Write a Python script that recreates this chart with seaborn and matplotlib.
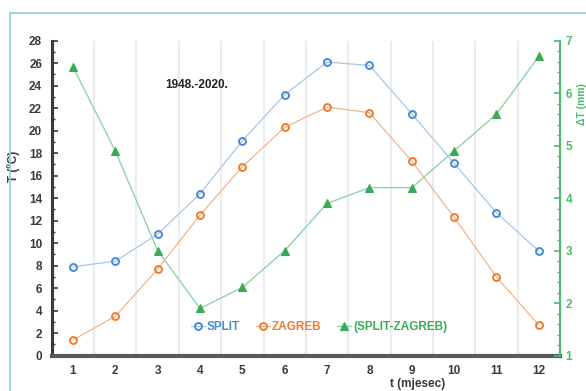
import matplotlib
matplotlib.use("Agg")
import matplotlib.pyplot as plt
from matplotlib.patches import Rectangle
from matplotlib.ticker import MultipleLocator, FixedLocator
import seaborn as sns
import pandas as pd

# Monthly mean air temperature 1948-2020 (°C) and the Split-Zagreb difference
months = [1, 2, 3, 4, 5, 6, 7, 8, 9, 10, 11, 12]
split_t = [7.9, 8.4, 10.8, 14.4, 19.1, 23.2, 26.1, 25.8, 21.5, 17.1, 12.7, 9.3]
zagreb_t = [1.4, 3.5, 7.7, 12.5, 16.8, 20.3, 22.1, 21.6, 17.3, 12.3, 7.0, 2.7]
diff_t = [6.5, 4.9, 3.0, 1.9, 2.3, 3.0, 3.9, 4.2, 4.2, 4.9, 5.6, 6.7]
series_names = ["SPLIT", "ZAGREB", "(SPLIT-ZAGREB)"]
period_label = "1948.-2020."

df = pd.DataFrame({"month": months, "split": split_t,
                   "zagreb": zagreb_t, "diff": diff_t})

sns.set_style("white")
plt.rcParams["font.family"] = ["Liberation Sans", "DejaVu Sans"]
plt.rcParams["font.weight"] = "bold"

BLUE, BLUE_L = "#4a8ad3", "#a8c7e8"
ORANGE, ORANGE_L = "#ed7d31", "#f3b48a"
GREEN, GREEN_L = "#3aaa56", "#8fd3a6"
AXIS_GREEN = "#4cbb6c"
DARK = "#3a3a3a"
FS = 8.5

fig = plt.figure(figsize=(5.86, 3.91), dpi=100)
ax = fig.add_axes([0.0884, 0.0903, 0.8672, 0.8057])
ax2 = ax.twinx()

# outer frame
fig.patches.append(Rectangle((10 / 586, -0.2), 1.2, 1.2 - 13 / 391,
                             transform=fig.transFigure, fill=False,
                             edgecolor="#8ccfd6", linewidth=1.2))

sns.lineplot(data=df, x="month", y="split", ax=ax, color=BLUE_L, lw=0.9,
             marker="o", markersize=5, markerfacecolor="none",
             markeredgecolor=BLUE, markeredgewidth=1.4, label=series_names[0],
             legend=False)
sns.lineplot(data=df, x="month", y="zagreb", ax=ax, color=ORANGE_L, lw=0.9,
             marker="o", markersize=5, markerfacecolor="none",
             markeredgecolor=ORANGE, markeredgewidth=1.4, label=series_names[1],
             legend=False)
sns.lineplot(data=df, x="month", y="diff", ax=ax2, color=GREEN_L, lw=1.0,
             marker="^", markersize=6, markerfacecolor=GREEN,
             markeredgecolor=GREEN, markeredgewidth=0.8, label=series_names[2],
             legend=False)

# left axis
ax.set_xlim(0.5, 12.5)
ax.set_ylim(0, 28)
ax.yaxis.set_major_locator(MultipleLocator(2))
ax.yaxis.set_minor_locator(MultipleLocator(1))
ax.xaxis.set_major_locator(FixedLocator(months))
ax.xaxis.set_minor_locator(FixedLocator([m + 0.5 for m in months[:-1]]))
ax.grid(False)
ax.grid(True, which="minor", axis="x", color="#ececec", lw=1.5)
ax.tick_params(axis="x", which="both", length=0, pad=7, labelsize=FS,
               labelcolor=DARK)
ax.tick_params(axis="y", which="major", direction="in", length=4, width=1.2,
               color=DARK, pad=7, labelsize=FS, labelcolor=DARK)
ax.tick_params(axis="y", which="minor", direction="in", length=2.5,
               width=1.0, color=DARK)
for lab in ax.get_xticklabels() + ax.get_yticklabels():
    lab.set_fontweight("bold")

for s in ["top", "right"]:
    ax.spines[s].set_visible(False)
ax.spines["left"].set_color(DARK)
ax.spines["left"].set_linewidth(2.2)
ax.spines["bottom"].set_color("#5a5a5a")
ax.spines["bottom"].set_linewidth(3)

ax.set_xlabel("t (mjesec)", fontsize=FS, fontweight="bold", color=DARK)
ax.xaxis.set_label_coords(0.719, -0.072)
ax.set_ylabel("T (ºC)", fontsize=FS, fontweight="bold", color=DARK)
ax.yaxis.set_label_coords(-0.063, 0.60)

# right axis
ax2.set_ylim(1, 7)
ax2.yaxis.set_major_locator(MultipleLocator(1))
ax2.yaxis.set_minor_locator(MultipleLocator(0.2))
ax2.grid(False)
ax2.tick_params(axis="y", which="major", direction="in", length=4, width=1.2,
                color=AXIS_GREEN, pad=4, labelsize=FS, labelcolor=AXIS_GREEN)
ax2.tick_params(axis="y", which="minor", direction="in", length=2.5,
                width=1.0, color=AXIS_GREEN)
for lab in ax2.get_yticklabels():
    lab.set_fontweight("bold")
for s in ["top", "left", "bottom"]:
    ax2.spines[s].set_visible(False)
ax2.spines["right"].set_color(AXIS_GREEN)
ax2.spines["right"].set_linewidth(1.5)
ax2.set_ylabel("ΔT (mm)", fontsize=7.5, fontweight="bold", color=AXIS_GREEN)
ax2.yaxis.set_label_coords(1.034, 0.80)

ax.text(3.17, 24.1, period_label, fontsize=FS, fontweight="bold",
        color="#222222", va="center", ha="left")

# legend
handles = ax.get_lines()[:2] + ax2.get_lines()[:1]
leg = ax.legend(handles, series_names, loc="center", ncol=3,
                bbox_to_anchor=(0.526, 0.091), frameon=False,
                fontsize=FS, handlelength=1.2, handletextpad=0.2,
                columnspacing=1.3, borderaxespad=0)
for txt, c in zip(leg.get_texts(), [BLUE, ORANGE, GREEN]):
    txt.set_color(c)
    txt.set_fontweight("bold")

fig.savefig("out.png", dpi=100)
